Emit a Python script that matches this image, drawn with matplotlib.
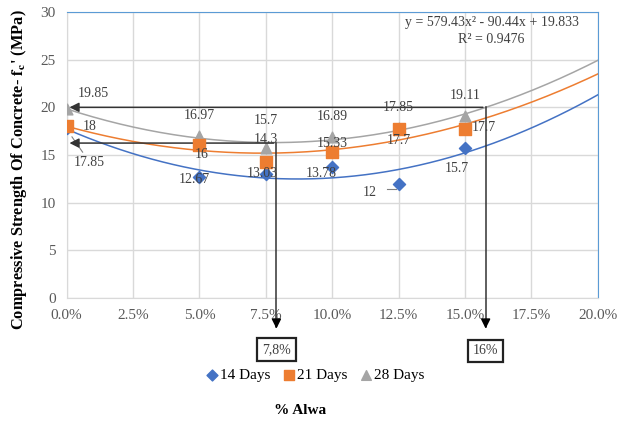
import numpy as np
import matplotlib.pyplot as plt
from matplotlib.ticker import PercentFormatter

plt.rcParams['font.family'] = ['Liberation Serif', 'DejaVu Serif']
plt.rcParams['mathtext.fontset'] = 'stix'

# Datos
alwa = [0.0, 0.05, 0.075, 0.10, 0.125, 0.15]
d14 = [17.85, 12.67, 13.03, 13.78, 12.0, 15.7]
d21 = [18.0, 16.0, 14.3, 15.33, 17.7, 17.7]
d28 = [19.85, 16.97, 15.7, 16.89, 17.85, 19.11]

lab14 = ["17.85", "12.67", "13.03", "13.78", "12", "15.7"]
lab21 = ["18", "16", "14.3", "15.33", "17.7", "17.7"]
lab28 = ["19.85", "16.97", "15.7", "16.89", "17.85", "19.11"]

# posiciones de las etiquetas (x, y en datos)
pos14 = [(0.0085, 14.2), (0.048, 12.4), (0.0735, 13.1), (0.096, 13.1), (0.114, 11.1), (0.147, 13.6)]
pos21 = [(0.0085, 18.0), (0.051, 15.0), (0.075, 16.6), (0.10, 16.2), (0.125, 16.5), (0.157, 17.9)]
pos28 = [(0.010, 21.5), (0.050, 19.1), (0.075, 18.6), (0.10, 19.0), (0.125, 20.0), (0.150, 21.2)]

c_blue, c_orange, c_gray = '#4472C4', '#ED7D31', '#A5A5A5'
txt_col = '#404040'

fig = plt.figure(figsize=(6.19, 4.21), dpi=100)
ax = fig.add_axes([0.1077, 0.2922, 0.8579, 0.6793])

xs = np.linspace(0, 0.2, 200)
for ys, col in [(d14, c_blue), (d21, c_orange), (d28, c_gray)]:
    p = np.polyfit(alwa, ys, 2)
    ax.plot(xs, np.polyval(p, xs), color=col, lw=1.1, zorder=2)

ax.scatter(alwa, d14, marker='D', s=38, color=c_blue, zorder=4, label='14 Days')
ax.scatter(alwa, d21, marker='s', s=75, color=c_orange, zorder=4, label='21 Days')
ax.scatter(alwa, d28, marker='^', s=60, color=c_gray, zorder=3, label='28 Days')

for labs, poss in [(lab14, pos14), (lab21, pos21), (lab28, pos28)]:
    for t, (px, py) in zip(labs, poss):
        ax.text(px, py, t, fontsize=10, color=txt_col, ha='center', va='center', zorder=5)

# lineas guia de etiquetas
ax.plot([0.002, 0.006], [16.9, 15.3], color='#808080', lw=0.8)
ax.plot([0.1205, 0.124], [11.4, 11.4], color='#808080', lw=0.8)

ax.text(0.160, 28.9, "y = 579.43x² - 90.44x + 19.833", fontsize=10, color=txt_col,
        ha='center', va='center')
ax.text(0.160, 27.1, "R² = 0.9476", fontsize=10, color=txt_col, ha='center', va='center')

# flechas de lectura
lc = '#333333'
ax.plot([0.1578, 0.1578], [20.0, -3.0], color=lc, lw=1.1, clip_on=False, zorder=3)
ax.plot([0.079, 0.079], [16.25, -3.0], color=lc, lw=1.1, clip_on=False, zorder=3)
ax.annotate('', xy=(0.0, 20.0), xytext=(0.1578, 20.0),
            arrowprops=dict(arrowstyle='-|>', color=lc, lw=1.1, mutation_scale=14), zorder=3)
ax.annotate('', xy=(0.0, 16.25), xytext=(0.079, 16.25),
            arrowprops=dict(arrowstyle='-|>', color=lc, lw=1.1, mutation_scale=14), zorder=3)
ax.annotate('', xy=(0.1578, -3.5), xytext=(0.1578, -2.0), annotation_clip=False,
            arrowprops=dict(arrowstyle='-|>', color='black', lw=1.1, mutation_scale=14))
ax.annotate('', xy=(0.079, -3.5), xytext=(0.079, -2.0), annotation_clip=False,
            arrowprops=dict(arrowstyle='-|>', color='black', lw=1.1, mutation_scale=14))

box = dict(boxstyle='square,pad=0.35', fc='white', ec='#222222', lw=1.6)
ax.text(0.079, -5.4, "7,8%", fontsize=10, color=txt_col, ha='center', va='center', bbox=box, clip_on=False)
ax.text(0.1578, -5.55, "16%", fontsize=10, color=txt_col, ha='center', va='center', bbox=box, clip_on=False)

ax.set_xlim(0, 0.2)
ax.set_ylim(0, 30)
ax.set_xticks(np.arange(0, 0.2001, 0.025))
ax.set_yticks(np.arange(0, 31, 5))
ax.xaxis.set_major_formatter(PercentFormatter(xmax=1, decimals=1))
ax.grid(True, color='#D9D9D9', lw=1)
ax.set_axisbelow(True)
ax.tick_params(length=0, labelsize=11, labelcolor='#595959', pad=8)
for s in ['left', 'bottom']:
    ax.spines[s].set_color('#D9D9D9')
for s in ['top', 'right']:
    ax.spines[s].set_color('#5B9BD5')

fig.text(0.03, 0.598, "Compressive Strength Of Concrete- $\\mathbf{f_c}$' (MPa)", rotation=90,
         fontsize=11.8, fontweight='bold', ha='center', va='center')
fig.text(0.485, 0.025, "% Alwa", fontsize=11, fontweight='bold', ha='center', va='center')
fig.legend(loc='center', bbox_to_anchor=(0.51, 0.109), ncol=3, frameon=False,
           fontsize=11, handlelength=0.7, handletextpad=0.15, columnspacing=0.9, markerscale=0.9)

fig.savefig('out.png', dpi=100)
